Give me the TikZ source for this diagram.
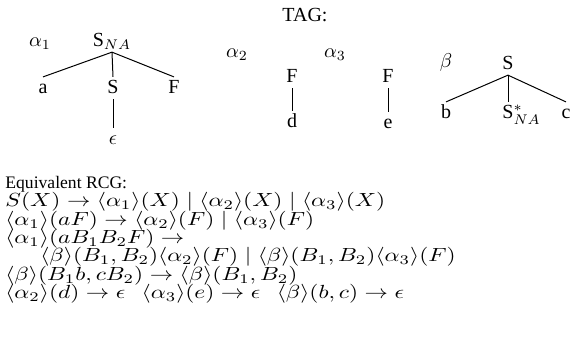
\documentclass[tikz,border=0pt]{standalone}
\usepackage{fontspec}
\setmainfont{Liberation Serif}
\newcommand{\mw}[1]{\scalebox{1.17}[0.95]{$#1$}}
\newcommand{\gapq}{\hspace{0.7em}}
\begin{document}
\begin{tikzpicture}[x=0.5pt,y=-0.5pt,
  tn/.style={anchor=base,inner sep=1pt,text height=1.6ex,text depth=0.3ex},
  lab/.style={anchor=base,inner sep=0pt},
  ml/.style={anchor=base west,inner sep=0pt},
  edge/.style={draw=black,line width=0.5pt}]
\useasboundingbox (0,0) rectangle (584,352);
\node[lab] (tag) at (305,22) {TAG:};
% alpha1
\node[lab] (la1) at (40,47) {$\alpha_1$};
\node[tn] (r1) at (112,47) {S$_{NA}$};
\node[tn] (a) at (43,94) {a};
\node[tn] (s1) at (113,94) {S};
\node[tn] (f1) at (174,94) {F};
\node[tn] (eps) at (113,145) {$\epsilon$};
\draw[edge] (r1.south) -- (a.north);
\draw[edge] (r1.south) -- (s1.north);
\draw[edge] (r1.south) -- (f1.north);
\draw[edge] (s1.south) -- (eps.north);
% alpha2
\node[lab] (la2) at (237,58) {$\alpha_2$};
\node[tn] (f2) at (292,83) {F};
\node[tn] (d) at (292,128) {d};
\draw[edge] (f2.south) -- (d.north);
% alpha3
\node[lab] (la3) at (335,58) {$\alpha_3$};
\node[tn] (f3) at (388,83) {F};
\node[tn] (e) at (388,129) {e};
\draw[edge] (f3.south) -- (e.north);
% beta
\node[lab] (lb) at (446,68) {$\beta$};
\node[tn] (rb) at (508,70) {S};
\node[tn] (b) at (446,119) {b};
\node[tn] (sf) at (508,119) {S\rlap{$^*_{NA}$}};
\node[tn] (c) at (566,119) {c};
\draw[edge] (rb.south) -- (b.north);
\draw[edge] (rb.south) -- (sf.north);
\draw[edge] (rb.south) -- (c.north);
% RCG
\node[ml] (eq) at (5,189) {\fontsize{8.8}{10}\selectfont Equivalent RCG:};
\node[ml] (m1) at (5,207) {\mw{S(X)\rightarrow\langle\alpha_1\rangle(X)\mid\langle\alpha_2\rangle(X)\mid\langle\alpha_3\rangle(X)}};
\node[ml] (m2) at (5,226) {\mw{\langle\alpha_1\rangle(aF)\rightarrow\langle\alpha_2\rangle(F)\mid\langle\alpha_3\rangle(F)}};
\node[ml] (m3) at (5,244) {\mw{\langle\alpha_1\rangle(aB_1B_2F)\rightarrow}};
\node[ml] (m4) at (40,262) {\mw{\langle\beta\rangle(B_1,B_2)\langle\alpha_2\rangle(F)\mid\langle\beta\rangle(B_1,B_2)\langle\alpha_3\rangle(F)}};
\node[ml] (m5) at (5,281) {\mw{\langle\beta\rangle(B_1b,cB_2)\rightarrow\langle\beta\rangle(B_1,B_2)}};
\node[ml] (m6) at (5,299) {\mw{\langle\alpha_2\rangle(d)\rightarrow\epsilon\gapq\langle\alpha_3\rangle(e)\rightarrow\epsilon\gapq\langle\beta\rangle(b,c)\rightarrow\epsilon}};
\end{tikzpicture}
\end{document}
